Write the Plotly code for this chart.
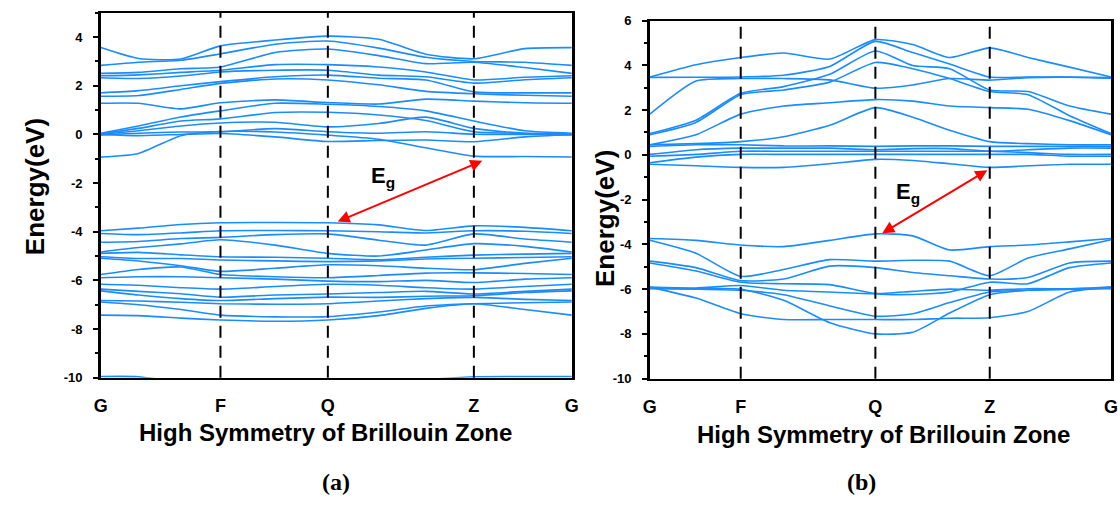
import plotly.graph_objects as go

# ---------------- data ----------------
KLABELS = ["G", "F", "Q", "Z", "G"]
KPOS_A = [0.0, 0.254, 0.482, 0.792, 1.0]
KPOS_B = [0.0, 0.197, 0.489, 0.737, 1.0]

YTICKS_A = [-10, -8, -6, -4, -2, 0, 2, 4]
YTICKS_B = [-10, -8, -6, -4, -2, 0, 2, 4, 6]
YTICKTEXT_A = ["-10", "-8", "-6", "-4", "-2", "0", "2", "4"]
YTICKTEXT_B = ["-10", "-8", "-6", "-4", "-2", "0", "2", "4", "6"]

# k-grid on which energies were read (panel a / panel b)
K_A = [0.0, 0.08, 0.17, 0.254, 0.37, 0.482, 0.59, 0.69, 0.792, 0.9, 1.0]
K_B = [0.0, 0.10, 0.197, 0.29, 0.39, 0.489, 0.57, 0.65, 0.737, 0.82, 0.91, 1.0]

# panel (a) conduction bands (eV)
A_U1 = [3.57, 3.12, 3.10, 3.64, 3.88, 4.04, 3.91, 3.30, 3.11, 3.53, 3.57]
A_U2 = [2.84, 2.97, 3.05, 3.31, 3.71, 3.84, 3.55, 3.17, 3.00, 2.97, 2.84]
A_U3 = [2.51, 2.55, 2.70, 2.77, 3.37, 3.51, 3.24, 2.91, 2.97, 2.75, 2.51]
A_U4 = [2.41, 2.45, 2.55, 2.64, 2.87, 2.87, 2.77, 2.57, 2.24, 2.35, 2.41]
A_U5 = [2.33, 2.30, 2.40, 2.57, 2.64, 2.64, 2.44, 2.37, 2.11, 2.25, 2.33]
A_U6 = [1.71, 1.80, 2.00, 2.17, 2.37, 2.44, 2.31, 2.24, 1.75, 1.71, 1.71]
A_U7 = [1.57, 1.60, 1.85, 2.10, 2.28, 2.24, 2.04, 1.77, 1.67, 1.61, 1.57]
A_L1 = [1.28, 1.28, 1.05, 1.30, 1.42, 1.31, 1.25, 1.45, 1.37, 1.30, 1.28]
A_L2 = [0.05, 0.35, 0.72, 0.97, 1.28, 1.24, 1.15, 0.97, 0.55, 0.15, 0.05]
A_L3 = [0.02, 0.25, 0.55, 0.64, 0.90, 0.91, 0.80, 0.57, 0.11, 0.05, 0.02]
A_L4 = [0.00, 0.15, 0.35, 0.47, 0.50, 0.31, 0.45, 0.71, 0.25, 0.05, 0.00]
A_L5 = [-0.02, 0.05, 0.10, 0.11, 0.24, 0.11, 0.05, 0.11, 0.01, 0.00, -0.02]
A_L6 = [0.00, -0.05, 0.00, 0.04, -0.10, -0.29, -0.25, -0.23, -0.30, -0.10, 0.00]
A_L7 = [-0.93, -0.78, -0.05, 0.12, 0.10, -0.03, -0.20, -0.55, -0.89, -0.91, -0.93]
# panel (a) valence bands (eV)
A_V1 = [-3.96, -3.85, -3.70, -3.63, -3.62, -3.63, -3.72, -3.95, -3.76, -3.82, -3.96]
A_V2 = [-4.07, -4.12, -4.05, -3.96, -3.95, -3.96, -4.00, -4.05, -3.96, -3.98, -4.07]
A_V3 = [-4.43, -4.40, -4.28, -4.23, -4.12, -4.09, -4.35, -4.55, -4.09, -4.30, -4.43]
A_V4 = [-4.83, -4.65, -4.50, -4.33, -4.55, -4.89, -5.00, -4.75, -4.49, -4.60, -4.83]
A_V5 = [-4.89, -4.85, -4.95, -5.03, -5.05, -5.09, -5.15, -5.05, -4.96, -4.92, -4.89]
A_V6 = [-5.03, -5.10, -5.10, -5.16, -5.20, -5.23, -5.20, -5.12, -5.09, -5.06, -5.03]
A_V7 = [-5.09, -5.20, -5.40, -5.63, -5.50, -5.36, -5.40, -5.50, -5.56, -5.30, -5.09]
A_V8 = [-5.76, -5.55, -5.45, -5.76, -5.85, -5.89, -5.80, -5.70, -5.69, -5.72, -5.76]
A_V9 = [-5.89, -5.85, -5.85, -5.89, -5.95, -6.03, -6.05, -6.00, -6.09, -5.95, -5.89]
A_V10 = [-6.16, -6.20, -6.30, -6.36, -6.25, -6.16, -6.20, -6.30, -6.36, -6.25, -6.16]
A_V11 = [-6.36, -6.45, -6.55, -6.69, -6.60, -6.56, -6.50, -6.45, -6.56, -6.45, -6.36]
A_V12 = [-6.43, -6.60, -6.75, -6.83, -6.75, -6.69, -6.70, -6.65, -6.63, -6.50, -6.43]
A_V13 = [-6.83, -6.85, -6.90, -6.96, -6.98, -6.96, -6.85, -6.75, -6.70, -6.78, -6.83]
A_V14 = [-6.89, -7.00, -7.20, -7.43, -7.50, -7.49, -7.30, -7.05, -6.96, -6.92, -6.89]
A_V15 = [-7.43, -7.45, -7.55, -7.63, -7.68, -7.63, -7.45, -7.15, -6.96, -7.20, -7.43]
A_V16 = [-9.95, -9.96, -10.2, -10.4, -10.5, -10.5, -10.4, -10.1, -9.96, -9.95, -9.95]

# panel (b) conduction bands (eV)
B_C1 = [3.48, 4.03, 4.35, 4.55, 4.28, 5.15, 4.93, 4.35, 4.78, 4.35, 3.92, 3.48]
B_C2 = [3.46, 3.47, 3.48, 3.56, 3.95, 5.07, 4.57, 4.06, 3.48, 3.48, 3.48, 3.46]
B_C3 = [1.82, 3.30, 3.41, 3.41, 3.35, 2.98, 3.12, 3.41, 3.34, 3.45, 3.47, 3.42]
B_C4 = [0.95, 1.55, 2.75, 3.05, 3.60, 4.64, 3.99, 3.85, 2.90, 2.83, 2.18, 1.82]
B_C5 = [0.90, 1.45, 2.69, 2.90, 3.25, 4.13, 3.85, 3.41, 2.83, 2.69, 1.75, 0.95]
B_C6 = [0.45, 0.90, 1.82, 2.18, 2.33, 2.47, 2.40, 2.18, 2.11, 2.04, 1.53, 0.90]
B_C7 = [0.45, 0.50, 0.59, 0.81, 1.32, 2.11, 1.68, 1.10, 0.59, 0.50, 0.45, 0.45]
B_C8 = [0.38, 0.45, 0.45, 0.40, 0.40, 0.38, 0.40, 0.40, 0.38, 0.38, 0.38, 0.38]
B_C9 = [0.02, 0.23, 0.30, 0.30, 0.30, 0.23, 0.28, 0.28, 0.16, 0.23, 0.30, 0.30]
B_C10 = [-0.06, 0.02, 0.16, 0.16, 0.16, 0.16, 0.16, 0.16, 0.16, 0.10, 0.02, 0.02]
B_C11 = [-0.35, -0.10, 0.02, 0.02, 0.02, 0.02, 0.02, 0.02, 0.02, 0.02, -0.06, -0.06]
B_C12 = [-0.42, -0.49, -0.56, -0.56, -0.40, -0.20, -0.25, -0.40, -0.56, -0.49, -0.42, -0.42]
# panel (b) valence bands (eV)
B_V1 = [-3.74, -3.82, -4.03, -4.10, -3.82, -3.53, -3.62, -4.25, -4.10, -4.03, -3.89, -3.74]
B_V2 = [-3.82, -4.40, -5.43, -5.12, -4.68, -4.75, -4.71, -4.75, -5.40, -4.61, -4.20, -3.79]
B_V3 = [-4.75, -5.04, -5.62, -5.55, -4.97, -5.04, -5.26, -5.40, -5.55, -5.48, -4.83, -4.75]
B_V4 = [-4.83, -5.19, -5.69, -5.76, -5.80, -6.20, -6.24, -6.13, -5.69, -5.76, -5.04, -4.83]
B_V5 = [-5.91, -5.95, -5.84, -6.05, -6.13, -6.20, -6.10, -6.00, -6.05, -5.98, -5.98, -5.91]
B_V6 = [-5.98, -6.00, -6.05, -6.25, -6.75, -7.21, -7.10, -6.60, -6.13, -6.05, -6.00, -5.98]
B_V7 = [-5.91, -6.40, -7.10, -7.36, -7.36, -7.36, -7.36, -7.30, -7.28, -7.00, -6.13, -5.91]
B_V8 = [-5.95, -5.98, -6.00, -6.50, -7.50, -8.00, -7.93, -7.07, -6.25, -6.05, -6.00, -5.95]

BANDS_A = [A_U1, A_U2, A_U3, A_U4, A_U5, A_U6, A_U7, A_L1, A_L2, A_L3, A_L4, A_L5, A_L6, A_L7,
           A_V1, A_V2, A_V3, A_V4, A_V5, A_V6, A_V7, A_V8, A_V9, A_V10, A_V11, A_V12, A_V13,
           A_V14, A_V15, A_V16]
BANDS_B = [B_C1, B_C2, B_C3, B_C4, B_C5, B_C6, B_C7, B_C8, B_C9, B_C10, B_C11, B_C12,
           B_V1, B_V2, B_V3, B_V4, B_V5, B_V6, B_V7, B_V8]

# band-gap arrows: (k, E) of the two ends
GAP_A = [(0.503, -3.58), (0.813, -1.06)]
GAP_B = [(0.504, -3.50), (0.735, -0.65)]
EG_LABEL_A = (0.60, -1.75)
EG_LABEL_B = (0.56, -1.70)

# ---------------- figure ----------------
W, H = 1120, 506
BAND_COLOR = "#1a8cff"
FONT = "Arial, Liberation Sans, sans-serif"

fig = go.Figure()
for band in BANDS_A:
    fig.add_trace(go.Scatter(x=K_A, y=band, mode="lines", xaxis="x", yaxis="y",
                             line=dict(color=BAND_COLOR, width=1.6, shape="spline", smoothing=0.6),
                             hoverinfo="skip", showlegend=False))
for band in BANDS_B:
    fig.add_trace(go.Scatter(x=K_B, y=band, mode="lines", xaxis="x2", yaxis="y2",
                             line=dict(color=BAND_COLOR, width=1.6, shape="spline", smoothing=0.6),
                             hoverinfo="skip", showlegend=False))


def px(x):
    return x / W


def py(y):
    return 1 - y / H


xcommon = dict(range=[0, 1], showline=True, linewidth=2, linecolor="black", mirror=True,
               ticks="", showgrid=False, zeroline=False, ticktext=KLABELS,
               tickfont=dict(family=FONT, size=18, color="black", weight="bold"),
               ticklabelstandoff=11, layer="below traces")
ycommon = dict(showline=True, linewidth=2.5, linecolor="black", mirror=True,
               ticks="outside", ticklen=5, tickwidth=2, tickcolor="black",
               showgrid=False, zeroline=False, ticklabelstandoff=8,
               minor=dict(dtick=1, tick0=0, ticks="outside", ticklen=3, tickwidth=1.5, tickcolor="black"),
               tickfont=dict(family=FONT, size=13, color="black", weight="bold"),
               layer="below traces")

fig.update_layout(
    width=W, height=H, margin=dict(l=0, r=0, t=0, b=0),
    paper_bgcolor="white", plot_bgcolor="white", showlegend=False,
    xaxis=dict(domain=[px(95), px(572)], anchor="y", tickvals=KPOS_A, **xcommon),
    yaxis=dict(domain=[py(382), py(6)], anchor="x", range=[-10, 5],
               tickvals=YTICKS_A, ticktext=YTICKTEXT_A, **ycommon),
    xaxis2=dict(domain=[px(651), px(1118)], anchor="y2", tickvals=KPOS_B, **xcommon),
    yaxis2=dict(domain=[py(383), py(14)], anchor="x2", range=[-10, 6],
                tickvals=YTICKS_B, ticktext=YTICKTEXT_B, **ycommon),
)

# dashed high-symmetry lines
for xr, yr, kp in (("x", "y domain", KPOS_A), ("x2", "y2 domain", KPOS_B)):
    for k in kp[1:-1]:
        fig.add_shape(type="line", xref=xr, yref=yr, x0=k, x1=k, y0=0, y1=1,
                      line=dict(color="black", width=2, dash="12px,8px"))

# band gap arrows and labels
for (p0, p1), lab, xr, yr in ((GAP_A, EG_LABEL_A, "x", "y"), (GAP_B, EG_LABEL_B, "x2", "y2")):
    fig.add_annotation(x=p0[0], y=p0[1], ax=p1[0], ay=p1[1], xref=xr, yref=yr, axref=xr, ayref=yr,
                       showarrow=True, arrowhead=2, arrowside="end+start", arrowsize=1.2,
                       arrowwidth=2, arrowcolor="#ff0000", text="")
    fig.add_annotation(x=lab[0], y=lab[1], xref=xr, yref=yr, showarrow=False,
                       xanchor="center", yanchor="middle",
                       text="<b>E</b><sub><b>g</b></sub>",
                       font=dict(family=FONT, size=22, color="black"))

# titles
for cx, cy in ((28, 185), (605, 218)):
    fig.add_annotation(x=px(cx), y=py(cy), xref="paper", yref="paper", showarrow=False,
                       xanchor="center", yanchor="middle",
                       text="<b>Energy(eV)</b>", textangle=-90,
                       font=dict(family=FONT, size=26, color="black"))
for cx, cy in ((323, 438), (888, 441)):
    fig.add_annotation(x=px(cx), y=py(cy), xref="paper", yref="paper", showarrow=False,
                       xanchor="center", yanchor="middle",
                       text="<b>High Symmetry of Brillouin Zone</b>",
                       font=dict(family=FONT, size=24, color="black"))
for cx, cy, t in ((333, 490, "(a)"), (865, 490, "(b)")):
    fig.add_annotation(x=px(cx), y=py(cy), xref="paper", yref="paper", showarrow=False,
                       xanchor="center", yanchor="middle",
                       text="<b>%s</b>" % t,
                       font=dict(family="Liberation Serif, Times New Roman, serif", size=24, color="black"))

fig.write_html("out.html")
